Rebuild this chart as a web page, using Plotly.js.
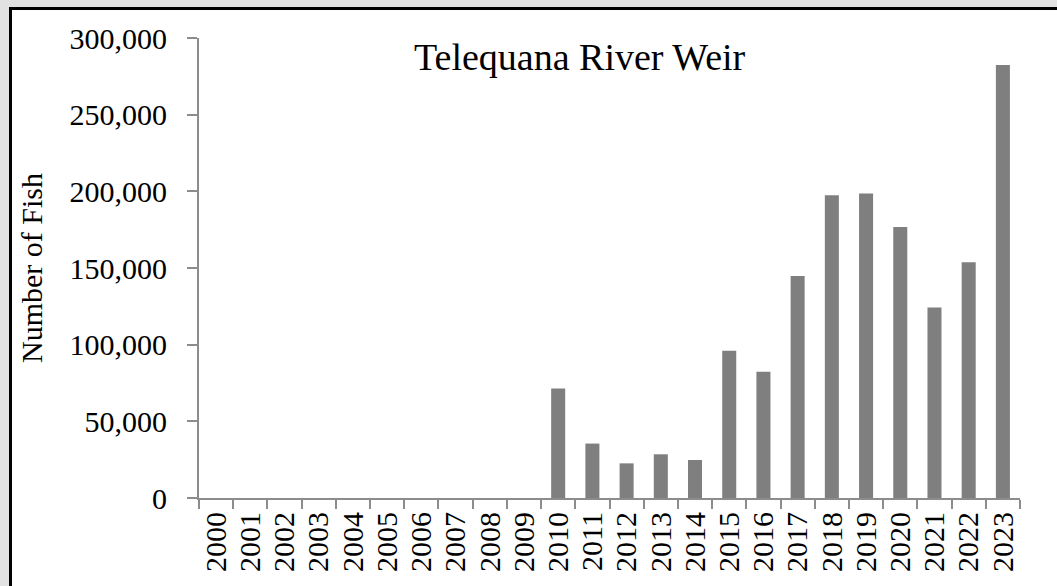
<!DOCTYPE html>
<html>
<head>
<meta charset="utf-8">
<script src="https://cdn.plot.ly/plotly-3.0.1.min.js"></script>
<style>
html,body{margin:0;padding:0;background:#e2e2e2;}
#frame{position:absolute;left:9px;top:7px;width:1100px;height:700px;background:#fff;border-left:3px solid #000;border-top:3px solid #000;}
#chart{position:absolute;left:0;top:0;width:1057px;height:586px;}
body{width:1057px;height:586px;overflow:hidden;position:relative;}
</style>
</head>
<body>
<div id="frame"></div>
<div id="chart"></div>
<script>
const years = ["2000","2001","2002","2003","2004","2005","2006","2007","2008","2009","2010","2011","2012","2013","2014","2015","2016","2017","2018","2019","2020","2021","2022","2023"];
const fish = [0,0,0,0,0,0,0,0,0,0,71400,35500,22600,28500,24800,96000,82300,144800,197400,198600,176800,124300,153800,282400];
const yTicks = [0,50000,100000,150000,200000,250000,300000];
const yTickLabels = ["0","50,000","100,000","150,000","200,000","250,000","300,000"];

const font = {family: "'Liberation Serif', 'Times New Roman', serif", color: "#000"};

Plotly.newPlot("chart", [{
  type: "bar",
  x: years,
  y: fish,
  marker: {color: "#7f7f7f", line: {width: 0}},
  hoverinfo: "x+y"
}], {
  width: 1057, height: 586,
  margin: {l: 199, r: 37, t: 38, b: 88, pad: 0},
  paper_bgcolor: "rgba(0,0,0,0)",
  plot_bgcolor: "rgba(0,0,0,0)",
  bargap: 0.59,
  showlegend: false,
  xaxis: {
    type: "category",
    tickmode: "array", tickvals: years, ticktext: years,
    tickson: "boundaries",
    ticks: "outside", ticklen: 9, tickwidth: 2, tickcolor: "#8c8c8c",
    showline: true, linecolor: "#8c8c8c", linewidth: 2,
    showgrid: false, zeroline: false,
    tickangle: -90,
    tickfont: Object.assign({size: 30}, font)
  },
  yaxis: {
    range: [0, 300000],
    tickvals: yTicks, ticktext: yTickLabels,
    ticks: "outside", ticklen: 10, tickwidth: 2, tickcolor: "#8c8c8c",
    showline: true, linecolor: "#8c8c8c", linewidth: 2,
    showgrid: false, zeroline: false,
    tickfont: Object.assign({size: 30}, font),
    ticklabelstandoff: 14,
    title: {text: "Number of Fish", font: Object.assign({size: 30}, font), standoff: 18}
  },
  annotations: [{
    text: "Telequana River Weir",
    xref: "paper", yref: "paper",
    x: (580 - 199) / (1057 - 199 - 37), y: (586 - 88 - 57) / (586 - 38 - 88),
    xanchor: "center", yanchor: "middle",
    showarrow: false,
    font: Object.assign({size: 38}, font)
  }]
}, {displayModeBar: false, staticPlot: true});
</script>
</body>
</html>
